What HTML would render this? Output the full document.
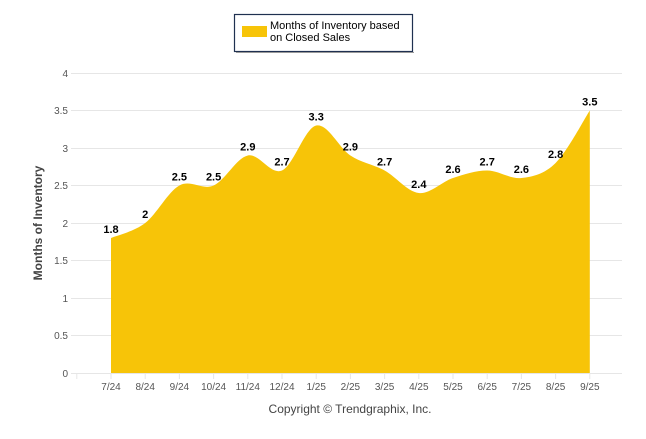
<!DOCTYPE html>
<html><head><meta charset="utf-8"><style>
body{margin:0;background:#fff;}
svg text{font-family:"Liberation Sans",sans-serif;}
</style></head><body>
<svg id="c" width="646" height="434" viewBox="0 0 646 434" xmlns="http://www.w3.org/2000/svg">
<rect width="646" height="434" fill="#fff"/>
<g stroke="#e6e6e6" stroke-width="1">
<line x1="71" x2="622" y1="73.5" y2="73.5"/>
<line x1="71" x2="622" y1="110.5" y2="110.5"/>
<line x1="71" x2="622" y1="148.5" y2="148.5"/>
<line x1="71" x2="622" y1="185.5" y2="185.5"/>
<line x1="71" x2="622" y1="223.5" y2="223.5"/>
<line x1="71" x2="622" y1="260.5" y2="260.5"/>
<line x1="71" x2="622" y1="298.5" y2="298.5"/>
<line x1="71" x2="622" y1="335.5" y2="335.5"/>
<line x1="71" x2="622" y1="373.5" y2="373.5"/>
</g>
<g font-size="10" fill="#555" text-anchor="end">
<text x="68" y="77">4</text><text x="68" y="114">3.5</text><text x="68" y="152">3</text>
<text x="68" y="189">2.5</text><text x="68" y="227">2</text><text x="68" y="264">1.5</text>
<text x="68" y="302">1</text><text x="68" y="339">0.5</text><text x="68" y="377">0</text>
</g>
<text transform="translate(42,223) rotate(-90)" text-anchor="middle" font-size="12" font-weight="bold" fill="#444">Months of Inventory</text>
<path id="area" fill="#f7c408"/>
<g id="ticks" stroke="#e6e6e6"></g>
<g id="xl" font-size="10" fill="#555" text-anchor="middle"></g>
<g id="dl" font-size="11" font-weight="bold" fill="#000" text-anchor="middle"></g>
<text x="350" y="413" text-anchor="middle" font-size="12" fill="#444">Copyright © Trendgraphix, Inc.</text>
<rect x="234.5" y="14.5" width="178" height="37" fill="#fff" stroke="#1f3050" stroke-width="1.2"/>
<line x1="236" y1="52.5" x2="414" y2="52.5" stroke="#999" stroke-width="1"/>
<rect x="242" y="26" width="25" height="11" fill="#f7c408"/>
<text x="270" y="29" font-size="11" fill="#000">Months of Inventory based</text>
<text x="270" y="41" font-size="11" fill="#000">on Closed Sales</text>
</svg>
<script>
var v=[1.8,2,2.5,2.5,2.9,2.7,3.3,2.9,2.7,2.4,2.6,2.7,2.6,2.8,3.5];
var lb=["7/24","8/24","9/24","10/24","11/24","12/24","1/25","2/25","3/25","4/25","5/25","6/25","7/25","8/25","9/25"];
var P=v.map(function(a,i){return [111+34.2*i,373-75*a];});
var d="M"+P[0][0]+",373 L"+P[0][0]+","+P[0][1];
for(var i=0;i<P.length-1;i++){
 var p0=P[i-1]||P[i],p1=P[i],p2=P[i+1],p3=P[i+2]||P[i+1];
 var c1=[p1[0]+(p2[0]-p0[0])/6,p1[1]+(p2[1]-p0[1])/6];
 var c2=[p2[0]-(p3[0]-p1[0])/6,p2[1]-(p3[1]-p1[1])/6];
 d+=" C"+c1+" "+c2+" "+p2;
}
d+=" L"+P[14][0]+",373 Z";
document.getElementById("area").setAttribute("d",d);
var ns="http://www.w3.org/2000/svg",t=document.getElementById("ticks"),xl=document.getElementById("xl"),dl=document.getElementById("dl");
for(var i=-1;i<15;i++){var x=111+34.2*i;var l=document.createElementNS(ns,"line");l.setAttribute("x1",x);l.setAttribute("x2",x);l.setAttribute("y1",373);l.setAttribute("y2",379);t.appendChild(l);}
P.forEach(function(p,i){
 var e=document.createElementNS(ns,"text");e.setAttribute("x",p[0]);e.setAttribute("y",390);e.textContent=lb[i];xl.appendChild(e);
 var f=document.createElementNS(ns,"text");f.setAttribute("x",p[0]);f.setAttribute("y",p[1]-5);f.textContent=String(v[i]);dl.appendChild(f);
});
</script>
</body></html>
